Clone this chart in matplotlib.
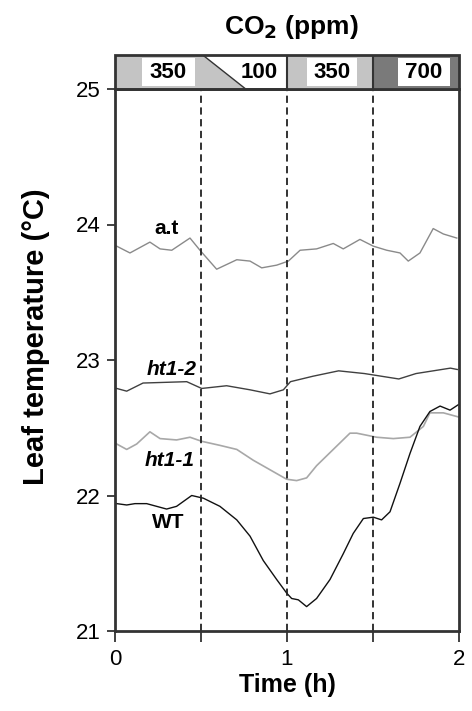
import matplotlib
matplotlib.use("Agg")
import matplotlib.pyplot as plt
from matplotlib.patches import Polygon, Rectangle

plt.rcParams['font.family'] = ['Liberation Sans', 'DejaVu Sans']

# ---- data ----
at_t = [0.01, 0.087, 0.203, 0.262, 0.33, 0.436, 0.494, 0.591, 0.708, 0.785, 0.853, 0.94,
        1.008, 1.076, 1.172, 1.269, 1.327, 1.424, 1.502, 1.58, 1.657, 1.705, 1.773, 1.85,
        1.909, 1.987]
at_y = [23.84, 23.79, 23.87, 23.82, 23.81, 23.90, 23.81, 23.67, 23.74, 23.73, 23.68, 23.70,
        23.73, 23.81, 23.82, 23.86, 23.82, 23.89, 23.84, 23.81, 23.79, 23.73, 23.79, 23.97,
        23.93, 23.90]

ht12_t = [0.01, 0.068, 0.163, 0.417, 0.504, 0.649, 0.785, 0.901, 0.979, 1.02, 1.15, 1.30,
          1.45, 1.55, 1.65, 1.75, 1.85, 1.95, 1.99]
ht12_y = [22.79, 22.77, 22.83, 22.84, 22.79, 22.81, 22.78, 22.75, 22.78, 22.84, 22.88, 22.92,
          22.90, 22.88, 22.86, 22.90, 22.92, 22.94, 22.93]

ht11_t = [0.01, 0.068, 0.126, 0.203, 0.262, 0.358, 0.436, 0.504, 0.61, 0.708, 0.804, 0.901,
          0.998, 1.056, 1.114, 1.172, 1.269, 1.366, 1.405, 1.521, 1.618, 1.715, 1.793, 1.831,
          1.909, 1.996]
ht11_y = [22.38, 22.34, 22.38, 22.47, 22.42, 22.41, 22.43, 22.40, 22.37, 22.34, 22.26, 22.19,
          22.12, 22.11, 22.13, 22.22, 22.34, 22.46, 22.46, 22.43, 22.42, 22.43, 22.51, 22.61,
          22.61, 22.58]

wt_t = [0.01, 0.068, 0.116, 0.184, 0.300, 0.358, 0.446, 0.514, 0.61, 0.708, 0.785, 0.862,
        0.94, 0.998, 1.027, 1.066, 1.114, 1.172, 1.25, 1.327, 1.385, 1.444, 1.502, 1.55,
        1.599, 1.657, 1.715, 1.773, 1.831, 1.89, 1.948, 1.996]
wt_y = [21.94, 21.93, 21.94, 21.94, 21.90, 21.92, 22.00, 21.98, 21.92, 21.82, 21.70, 21.52,
        21.38, 21.28, 21.24, 21.23, 21.18, 21.24, 21.38, 21.57, 21.72, 21.83, 21.84, 21.82,
        21.88, 22.09, 22.31, 22.51, 22.62, 22.66, 22.63, 22.67]

switch_times = [0.5, 1.0, 1.5]
co2_labels = ['350', '100', '350', '700']
y_ticks = [21, 22, 23, 24, 25]
x_ticks = [0, 0.5, 1, 1.5, 2]
x_ticklabels = ['0', '', '1', '', '2']

# ---- figure ----
W, H = 472, 711
fig = plt.figure(figsize=(W / 100, H / 100), dpi=100)
L, R = 115 / W, 459 / W
B, T = 1 - 631 / H, 1 - 89 / H
BT = 1 - 55 / H
ax = fig.add_axes([L, B, R - L, T - B])
axb = fig.add_axes([L, T, R - L, BT - T], sharex=ax)

ax.plot(at_t, at_y, color='#8a8a8a', lw=1.0)
ax.plot(ht12_t, ht12_y, color='#404040', lw=1.0)
ax.plot(ht11_t, ht11_y, color='#a8a8a8', lw=1.2)
ax.plot(wt_t, wt_y, color='#111111', lw=1.0)

for s in switch_times:
    ax.axvline(s, color='#222222', lw=1.3, ls=(0, (4, 2.5)))

ax.set_xlim(0, 2)
ax.set_ylim(21, 25)
ax.set_yticks(y_ticks)
ax.set_xticks(x_ticks)
ax.set_xticklabels(x_ticklabels)
ax.tick_params(axis='y', length=6, width=1.3, labelsize=16, pad=4, color='#333333')
ax.tick_params(axis='x', length=8, width=1.3, labelsize=16, pad=5, color='#333333')
for sp in ax.spines.values():
    sp.set_linewidth(2)
    sp.set_color('#333333')

ax.set_xlabel('Time (h)', fontsize=18, fontweight='bold', labelpad=2)
fig.text(36 / W, 1 - 337 / H, 'Leaf temperature (°C)', rotation=90, fontsize=21,
         fontweight='bold', ha='center', va='center')

ax.text(0.30, 23.97, 'a.t', fontsize=15, fontweight='bold', ha='center', va='center')
ax.text(0.33, 22.93, 'ht1-2', fontsize=15, fontweight='bold', style='italic',
        ha='center', va='center')
ax.text(0.32, 22.26, 'ht1-1', fontsize=15, fontweight='bold', style='italic',
        ha='center', va='center')
ax.text(0.31, 21.80, 'WT', fontsize=15, fontweight='bold', ha='center', va='center')

# ---- CO2 bar ----
axb.set_ylim(0, 1)
axb.set_xlim(0, 2)
axb.axis('off')
light, dark = '#c4c4c4', '#7a7a7a'
axb.add_patch(Polygon([(0, 0), (0, 1), (0.51, 1), (0.76, 0)], closed=True,
                      facecolor=light, edgecolor='#333333', lw=1.0))
axb.add_patch(Rectangle((1.0, 0), 0.5, 1, facecolor=light, edgecolor='none'))
axb.add_patch(Rectangle((1.5, 0), 0.5, 1, facecolor=dark, edgecolor='none'))
boxes = [(0.157, 0.465), (0.68, 0.99), (1.116, 1.407), (1.645, 1.948)]
for (x0, x1), lab, fill in zip(boxes, co2_labels, [True, False, True, True]):
    if fill:
        axb.add_patch(Rectangle((x0, 0.1), x1 - x0, 0.8, facecolor='white', edgecolor='none'))
    axb.text((x0 + x1) / 2 if lab != '100' else 0.84, 0.48, lab, fontsize=16,
             fontweight='bold', ha='center', va='center')
axb.add_patch(Rectangle((0, 0), 2, 1, facecolor='none', edgecolor='#333333', lw=2,
                        clip_on=False))
for s in [1.0, 1.5]:
    axb.plot([s, s], [0, 1], color='#333333', lw=1.5)

fig.text((L + R) / 2 + 4 / W, 1 - 27 / H, 'CO$_\\mathbf{2}$ (ppm)', fontsize=19,
         fontweight='bold', ha='center', va='center')

fig.savefig('out.png', dpi=100)
